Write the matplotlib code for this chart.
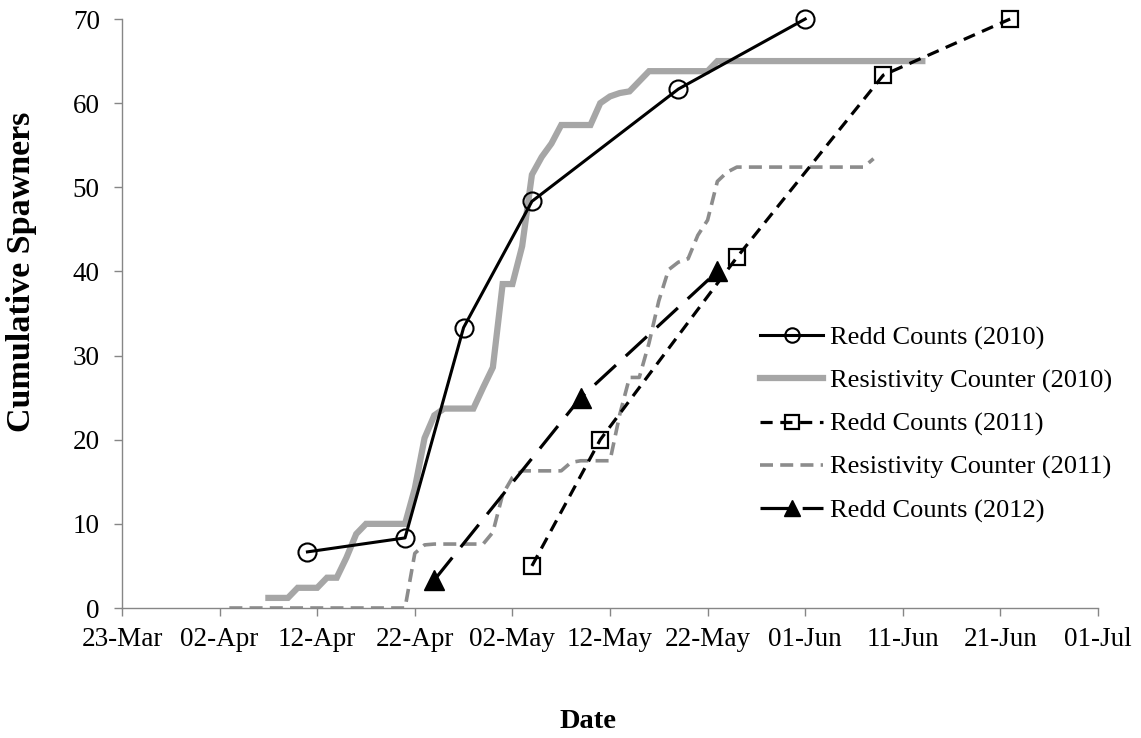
import matplotlib
matplotlib.use("Agg")
import matplotlib.pyplot as plt
import matplotlib.dates as mdates
import pandas as pd

plt.rcParams['font.family'] = ['Liberation Serif', 'DejaVu Serif']

YEAR = "2010-"

# Redd counts, converted to spawners (one date per survey)
redd2010_dates = ["04-11", "04-21", "04-27", "05-04", "05-19", "06-01"]
redd2010_vals = [6.67, 8.33, 33.33, 48.33, 61.67, 70.0]

redd2011_dates = ["05-04", "05-11", "05-25", "06-09", "06-22"]
redd2011_vals = [5.0, 20.0, 41.67, 63.33, 70.0]

redd2012_dates = ["04-24", "05-09", "05-23"]
redd2012_vals = [3.33, 25.0, 40.0]

# Resistivity counter, daily cumulative totals
res2010_start = "04-07"
res2010_vals = [1.2, 1.2, 1.2, 2.4, 2.4, 2.4, 3.6, 3.6, 6.0, 8.8,
                10.0, 10.0, 10.0, 10.0, 10.0, 14.2, 20.2, 22.9, 23.7, 23.7,
                23.7, 23.7, 26.2, 28.6, 38.5, 38.5, 43.0, 51.5, 53.6, 55.2,
                57.4, 57.4, 57.4, 57.4, 60.0, 60.8, 61.2, 61.4, 62.6, 63.8,
                63.8, 63.8, 63.8, 63.8, 63.8, 63.8] + [65.0] * 22

res2011_start = "04-03"
res2011_vals = [0.0] * 19 + [6.5, 7.5, 7.6, 7.6, 7.6, 7.6, 7.6, 7.6, 9.0, 13.5,
                             15.5, 16.3, 16.3, 16.3, 16.3, 16.3, 17.3, 17.5, 17.5, 17.5,
                             17.5, 23.0, 27.4, 27.4, 31.5, 36.5, 40.2, 41.1, 41.5, 44.3,
                             46.1, 50.7, 51.8] + [52.4] * 14 + [53.4]

xtick_start = "03-23"
xtick_end = "07-01"


def to_dates(lst):
    return pd.to_datetime([YEAR + s for s in lst])


def daily(start, vals):
    return pd.date_range(YEAR + start, periods=len(vals), freq="D")


fig = plt.figure(figsize=(11.41, 7.38), dpi=100)
ax = fig.add_axes([122 / 1141, 1 - 608 / 738, 976 / 1141, 589 / 738])

black = "#000000"
grey_light = "#a6a6a6"
grey_dark = "#8c8c8c"

ax.plot(to_dates(redd2010_dates), redd2010_vals, color=black, lw=2.2,
        marker="o", ms=13, mfc="none", mec=black, mew=1.5,
        label="Redd Counts (2010)", clip_on=False, zorder=5)
ax.plot(daily(res2010_start, res2010_vals), res2010_vals, color=grey_light,
        lw=4.5, solid_joinstyle="miter", label="Resistivity Counter (2010)", zorder=3)
ax.plot(to_dates(redd2011_dates), redd2011_vals, color=black, lw=2.3,
        dashes=(3.8, 2.4), marker="s", ms=12, mfc="none", mec=black, mew=1.6,
        label="Redd Counts (2011)", clip_on=False, zorder=5)
ax.plot(daily(res2011_start, res2011_vals), res2011_vals, color=grey_dark,
        lw=2.6, dashes=(3.6, 2.0), label="Resistivity Counter (2011)", zorder=3)
ax.plot(to_dates(redd2012_dates), redd2012_vals, color=black, lw=2.3,
        dashes=(9.0, 4.2), marker="^", ms=14, mfc=black, mec=black,
        label="Redd Counts (2012)", clip_on=False, zorder=5)

ax.set_xlim(pd.Timestamp(YEAR + xtick_start), pd.Timestamp(YEAR + xtick_end))
ax.set_ylim(0, 70)
ax.set_xticks(pd.date_range(YEAR + xtick_start, YEAR + xtick_end, freq="10D"))
ax.xaxis.set_major_formatter(mdates.DateFormatter("%d-%b"))
ax.set_yticks(range(0, 71, 10))

axis_grey = "#868686"
for side in ["top", "right"]:
    ax.spines[side].set_visible(False)
for side in ["left", "bottom"]:
    ax.spines[side].set_color(axis_grey)
    ax.spines[side].set_linewidth(1.0)
ax.tick_params(axis="both", direction="out", length=6, width=1.0,
               color=axis_grey, labelsize=19.5, labelcolor="black")
ax.tick_params(axis="x", pad=8)
ax.tick_params(axis="y", pad=10)

ax.set_xlabel("Date", fontsize=20.5, fontweight="bold", va="center")
ax.xaxis.set_label_coords(0.4775, -0.1935)
ax.set_ylabel("Cumulative Spawners", fontsize=24.5, fontweight="bold", va="center")
ax.yaxis.set_label_coords(-0.1025, 0.57)

leg = ax.legend(loc="upper left", bbox_to_anchor=(760 / 1141, 1 - 326 / 738),
                bbox_transform=fig.transFigure, frameon=False, fontsize=19,
                handlelength=2.4, handletextpad=0.25, labelspacing=0.73,
                borderpad=0, borderaxespad=0, markerscale=0.8)

fig.savefig("out.png", dpi=100)
